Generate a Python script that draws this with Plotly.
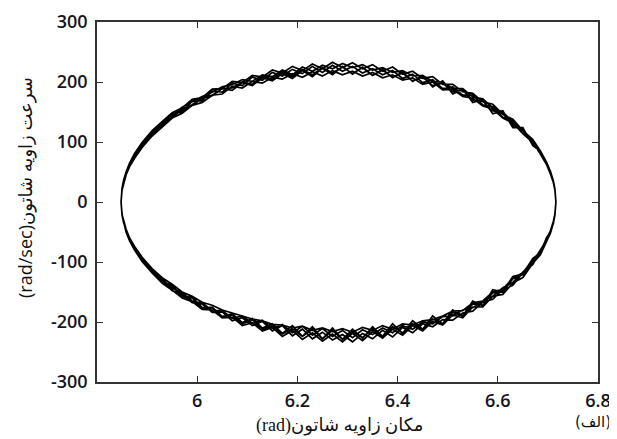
import plotly.graph_objects as go

# shared position grid (rad) for the upper and lower halves of each cycle
pos_grid = [5.848, 5.850, 5.853, 5.858, 5.865, 5.875, 5.89,
            5.91, 5.93, 5.95, 5.97, 5.99, 6.01, 6.03, 6.05, 6.07, 6.09,
            6.11, 6.13, 6.15, 6.17, 6.19, 6.21, 6.23, 6.25, 6.27, 6.29,
            6.31, 6.33, 6.35, 6.37, 6.39, 6.41, 6.43, 6.45, 6.47, 6.49,
            6.51, 6.53, 6.55, 6.57, 6.59, 6.61, 6.63, 6.65, 6.67,
            6.685, 6.697, 6.705, 6.711, 6.714, 6.716]

# angular velocity (rad/sec), upper half of each cycle
upper_1 = [0, 22, 35, 49, 64, 79, 97, 117, 131, 147, 150, 168, 169, 185, 183, 198, 194,
           208, 203, 216, 210, 221, 214, 226, 216, 228, 218, 226, 215, 222, 212, 219, 206,
           213, 199, 204, 189, 192, 178, 178, 162, 159, 141, 135, 114, 102, 80, 66, 48, 34, 21, 0]
upper_2 = [0, 20, 31, 45, 59, 73, 91, 110, 125, 140, 148, 161, 166, 178, 180, 193, 190,
           201, 198, 208, 205, 214, 208, 217, 210, 219, 212, 218, 210, 216, 207, 212, 203,
           207, 196, 200, 187, 188, 176, 173, 160, 155, 140, 132, 114, 99, 80, 63, 47, 32, 20, 0]
upper_3 = [0, 22, 34, 48, 63, 78, 96, 116, 133, 145, 158, 167, 176, 183, 192, 196, 204,
           201, 212, 209, 220, 212, 225, 218, 228, 222, 231, 224, 229, 220, 224, 216, 219,
           210, 211, 201, 200, 189, 189, 175, 172, 157, 150, 133, 121, 101, 84, 65, 50, 33, 21, 0]
upper_4 = [0, 21, 33, 46, 61, 76, 93, 112, 130, 141, 155, 162, 174, 178, 189, 190, 200,
           196, 210, 205, 217, 209, 221, 212, 224, 215, 225, 214, 224, 211, 220, 208, 215,
           202, 208, 194, 198, 184, 186, 170, 168, 152, 147, 128, 119, 97, 83, 63, 49, 33, 21, 0]
upper_5 = [0, 21, 34, 48, 62, 77, 95, 114, 127, 143, 152, 161, 173, 177, 189, 186, 199,
           194, 207, 202, 214, 206, 219, 209, 223, 212, 226, 213, 225, 211, 221, 207, 217,
           201, 211, 192, 202, 180, 188, 166, 171, 147, 152, 124, 124, 94, 85, 62, 49, 33, 21, 0]
upper_6 = [0, 23, 36, 50, 65, 81, 99, 119, 134, 149, 157, 171, 174, 188, 189, 201, 199,
           211, 208, 220, 215, 226, 219, 230, 222, 233, 224, 232, 222, 229, 218, 225, 213,
           218, 206, 209, 196, 196, 184, 181, 167, 163, 146, 138, 119, 104, 85, 67, 51, 35, 22, 0]

# lower half of each cycle (listed left to right)
lower_1 = [0, -20, -34, -48, -62, -78, -96, -115, -133, -140, -158, -160, -177, -176, -192, -188, -203,
           -196, -212, -206, -220, -211, -224, -212, -228, -214, -229, -216, -226, -212, -224, -208, -218,
           -203, -212, -195, -203, -184, -190, -170, -172, -151, -150, -128, -121, -97, -84, -63, -50, -33, -21, 0]
lower_2 = [0, -21, -32, -45, -60, -74, -92, -111, -126, -137, -150, -157, -167, -172, -180, -185, -190,
           -195, -198, -204, -205, -210, -207, -214, -210, -216, -211, -217, -209, -214, -206, -212, -203,
           -205, -198, -196, -190, -182, -181, -168, -165, -150, -145, -127, -118, -96, -82, -62, -48, -32, -20, 0]
lower_3 = [0, -22, -34, -48, -63, -79, -97, -117, -131, -148, -153, -168, -170, -184, -183, -198, -193,
           -206, -199, -215, -206, -223, -212, -228, -217, -230, -221, -233, -219, -228, -214, -225, -209,
           -218, -203, -208, -196, -197, -185, -182, -167, -162, -146, -139, -118, -104, -82, -67, -49, -35, -21, 0]
lower_4 = [0, -21, -33, -47, -61, -77, -95, -114, -128, -144, -151, -165, -168, -181, -181, -194, -190,
           -202, -197, -211, -204, -218, -207, -222, -211, -224, -214, -226, -213, -221, -210, -218, -206,
           -212, -200, -203, -191, -190, -180, -176, -165, -157, -143, -134, -117, -100, -81, -64, -48, -33, -21, 0]
lower_5 = [0, -21, -33, -48, -62, -77, -95, -112, -132, -139, -157, -158, -176, -175, -191, -186, -201,
           -194, -210, -203, -219, -206, -224, -208, -228, -210, -229, -212, -227, -208, -224, -203, -219,
           -198, -212, -190, -203, -180, -190, -165, -173, -146, -150, -124, -120, -94, -85, -60, -50, -32, -21, 0]
lower_6 = [0, -22, -35, -50, -65, -80, -99, -118, -135, -147, -160, -166, -179, -180, -193, -192, -206,
           -201, -215, -209, -224, -214, -229, -218, -232, -220, -233, -219, -231, -216, -227, -212, -222,
           -206, -215, -199, -205, -188, -193, -175, -175, -157, -154, -135, -126, -102, -88, -67, -52, -35, -22, 0]

x_ticks = [6, 6.2, 6.4, 6.6, 6.8]
x_labels = ['6', '6.2', '6.4', '6.6', '6.8']
y_ticks = [-300, -200, -100, 0, 100, 200, 300]
y_labels = ['-300', '-200', '-100', '0', '100', '200', '300']

x_title = '(rad)مکان زاویه شاتون'
y_title = '(rad/sec)سرعت زاویه شاتون'
panel_label = '(الف)'

cycles = [(upper_1, lower_1), (upper_2, lower_2), (upper_3, lower_3),
          (upper_4, lower_4), (upper_5, lower_5), (upper_6, lower_6)]
xs, ys = [], []
for up, lo in cycles:
    xs += pos_grid + pos_grid[::-1]
    ys += up + lo[::-1]

fig = go.Figure()
fig.add_trace(go.Scatter(x=xs, y=ys, mode='lines',
                         line=dict(color='black', width=1.7), showlegend=False))

font_family = 'Open Sans, DejaVu Sans, sans-serif'
axis_style = dict(showline=True, linecolor='#333', linewidth=1.6, mirror='ticks',
                  ticks='inside', ticklen=6, tickcolor='#333', tickwidth=1.3,
                  showgrid=False, zeroline=False, automargin=False,
                  tickfont=dict(size=18, color='#151520', family=font_family, weight=600))

# the page body adds an 8px offset, so margins are shifted to compensate
fig.update_layout(
    width=617, height=439,
    margin=dict(l=89, r=27, t=14, b=65),
    plot_bgcolor='white', paper_bgcolor='white',
    font=dict(family=font_family, color='#111'),
    xaxis=dict(range=[5.8, 6.8], tickvals=x_ticks, ticktext=x_labels, ticklabelstandoff=2,
               **axis_style),
    yaxis=dict(range=[-300, 300], tickvals=y_ticks, ticktext=y_labels, ticklabelstandoff=4,
               **axis_style),
    annotations=[
        dict(text=x_title, xref='paper', yref='paper', x=0.485, y=-0.122,
             xanchor='center', yanchor='middle', showarrow=False,
             font=dict(size=18, color='#111', family='Liberation Serif, DejaVu Sans')),
        dict(text=y_title, xref='paper', yref='paper', x=-0.145, y=0.54,
             xanchor='center', yanchor='middle', textangle=-90, showarrow=False,
             font=dict(size=18, color='#111')),
        dict(text=panel_label, xref='paper', yref='paper', x=1.03, y=-0.112,
             xanchor='right', yanchor='middle', showarrow=False,
             font=dict(size=15, color='#111', family='DejaVu Sans')),
    ],
)

fig.write_html("out.html")
